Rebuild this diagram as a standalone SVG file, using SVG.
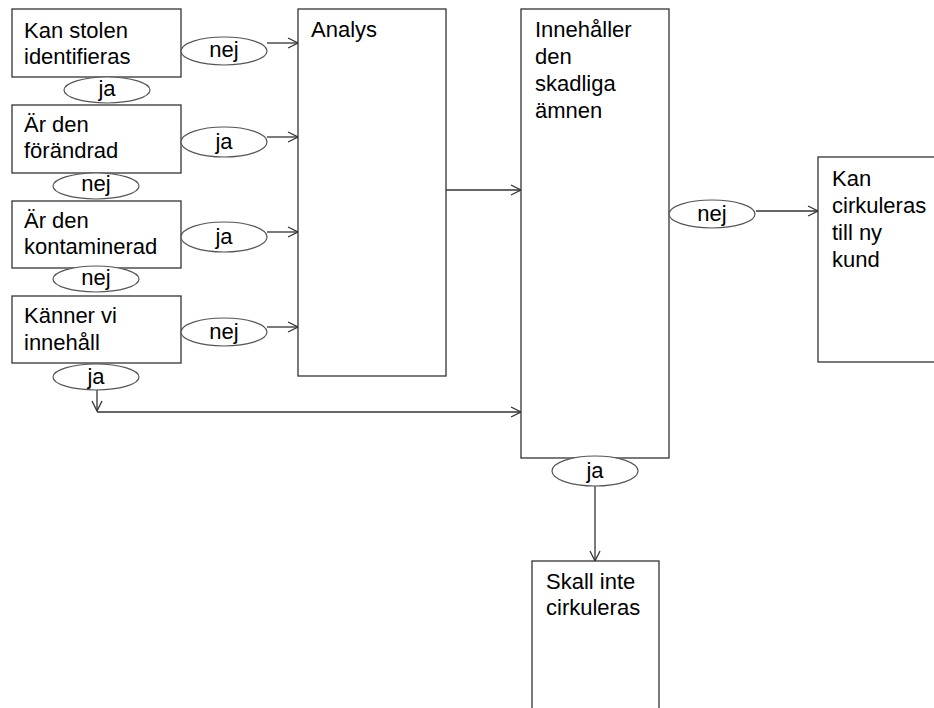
<svg xmlns="http://www.w3.org/2000/svg" width="934" height="708" viewBox="0 0 934 708">
  <style>
    .box { fill: #ffffff; stroke: #333333; stroke-width: 1.3; }
    .oval { fill: #ffffff; stroke: #555555; stroke-width: 1.2; }
    .txt { font-family: "Liberation Sans", Arial, sans-serif; font-size: 22px; fill: #000000; }
    .lbl { font-family: "Liberation Sans", Arial, sans-serif; font-size: 22px; fill: #000000; text-anchor: middle; }
    .wire { fill: none; stroke: #333333; stroke-width: 1.3; }
  </style>
  <defs>
    <marker id="arrow" viewBox="-11 -6 12 12" refX="0" refY="0" markerWidth="12" markerHeight="12" markerUnits="userSpaceOnUse" orient="auto">
      <path d="M-10,-5 L0,0 L-10,5" fill="none" stroke="#333333" stroke-width="1.3"/>
    </marker>
  </defs>
  <rect width="934" height="708" fill="#ffffff"/>

  <!-- connectors -->
  <g id="connectors">
    <line class="wire" x1="267" y1="43" x2="298" y2="43" marker-end="url(#arrow)"/>
    <line class="wire" x1="267" y1="137" x2="298" y2="137" marker-end="url(#arrow)"/>
    <line class="wire" x1="267" y1="232" x2="298" y2="232" marker-end="url(#arrow)"/>
    <line class="wire" x1="267" y1="327" x2="298" y2="327" marker-end="url(#arrow)"/>
    <line class="wire" x1="446" y1="190" x2="521" y2="190" marker-end="url(#arrow)"/>
    <line class="wire" x1="97" y1="390" x2="97" y2="411" marker-end="url(#arrow)"/>
    <line class="wire" x1="97" y1="412" x2="521" y2="412" marker-end="url(#arrow)"/>
    <line class="wire" x1="595" y1="486" x2="595" y2="561" marker-end="url(#arrow)"/>
    <line class="wire" x1="756" y1="211" x2="818" y2="211" marker-end="url(#arrow)"/>
  </g>

  <!-- question boxes -->
  <g id="q-identifieras">
    <rect class="box" x="12" y="9" width="169" height="68"/>
    <text class="txt" x="24" y="38">Kan stolen</text>
    <text class="txt" x="24" y="64">identifieras</text>
  </g>
  <g id="q-forandrad">
    <rect class="box" x="12" y="105" width="169" height="68"/>
    <text class="txt" x="24" y="132">Är den</text>
    <text class="txt" x="24" y="158">förändrad</text>
  </g>
  <g id="q-kontaminerad">
    <rect class="box" x="12" y="201" width="169" height="67"/>
    <text class="txt" x="24" y="228">Är den</text>
    <text class="txt" x="24" y="254">kontaminerad</text>
  </g>
  <g id="q-innehall">
    <rect class="box" x="12" y="296" width="169" height="67"/>
    <text class="txt" x="24" y="323">Känner vi</text>
    <text class="txt" x="24" y="350">innehåll</text>
  </g>

  <g id="analys">
    <rect class="box" x="298" y="9" width="148" height="367"/>
    <text class="txt" x="311" y="37">Analys</text>
  </g>
  <g id="skadliga">
    <rect class="box" x="521" y="9" width="148" height="449"/>
    <text class="txt" x="535" y="37">Innehåller</text>
    <text class="txt" x="535" y="64">den</text>
    <text class="txt" x="535" y="91">skadliga</text>
    <text class="txt" x="535" y="118">ämnen</text>
  </g>
  <g id="ny-kund">
    <rect class="box" x="818" y="157" width="130" height="205"/>
    <text class="txt" x="832" y="186">Kan</text>
    <text class="txt" x="832" y="213">cirkuleras</text>
    <text class="txt" x="832" y="240">till ny</text>
    <text class="txt" x="832" y="267">kund</text>
  </g>
  <g id="inte-cirkuleras">
    <rect class="box" x="532" y="561" width="127" height="160"/>
    <text class="txt" x="546" y="589">Skall inte</text>
    <text class="txt" x="546" y="615">cirkuleras</text>
  </g>

  <!-- answer ovals -->
  <g id="a1-nej"><ellipse class="oval" cx="224" cy="51" rx="43" ry="14"/><text class="lbl" x="224" y="57">nej</text></g>
  <g id="a1-ja"><ellipse class="oval" cx="107" cy="90" rx="43" ry="13"/><text class="lbl" x="107" y="96">ja</text></g>
  <g id="a2-ja"><ellipse class="oval" cx="224" cy="142" rx="43" ry="15"/><text class="lbl" x="224" y="149">ja</text></g>
  <g id="a2-nej"><ellipse class="oval" cx="96" cy="186" rx="43" ry="13"/><text class="lbl" x="96" y="191">nej</text></g>
  <g id="a3-ja"><ellipse class="oval" cx="224" cy="237" rx="43" ry="15"/><text class="lbl" x="224" y="244">ja</text></g>
  <g id="a3-nej"><ellipse class="oval" cx="96" cy="279" rx="43" ry="13"/><text class="lbl" x="96" y="285">nej</text></g>
  <g id="a4-nej"><ellipse class="oval" cx="224" cy="332" rx="43" ry="14"/><text class="lbl" x="224" y="339">nej</text></g>
  <g id="a4-ja"><ellipse class="oval" cx="96" cy="377" rx="43" ry="13"/><text class="lbl" x="96" y="384">ja</text></g>
  <g id="a5-ja"><ellipse class="oval" cx="595" cy="471" rx="43" ry="15"/><text class="lbl" x="595" y="478">ja</text></g>
  <g id="a5-nej"><ellipse class="oval" cx="712" cy="214" rx="43" ry="14"/><text class="lbl" x="712" y="221">nej</text></g>
</svg>
